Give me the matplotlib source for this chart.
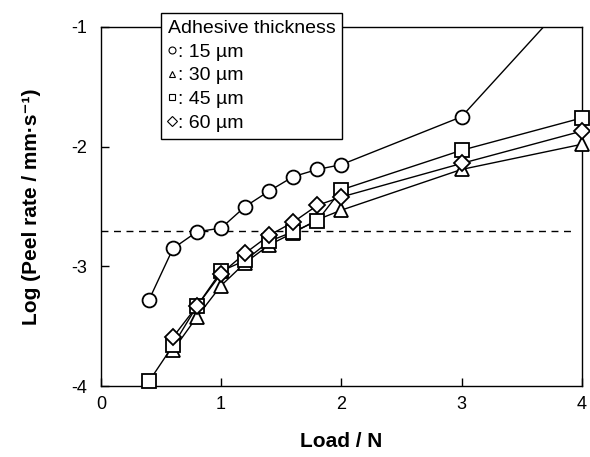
import matplotlib.pyplot as plt
from matplotlib.lines import Line2D

plt.rcParams['font.family'] = ['Liberation Sans', 'DejaVu Sans']
plt.rcParams['axes.unicode_minus'] = False

# Load (N)
load_15 = [0.4, 0.6, 0.8, 1.0, 1.2, 1.4, 1.6, 1.8, 2.0, 3.0, 4.0]
load_30 = [0.6, 0.8, 1.0, 1.2, 1.4, 1.6, 1.8, 2.0, 3.0, 4.0]
load_45 = [0.4, 0.6, 0.8, 1.0, 1.2, 1.4, 1.6, 1.8, 2.0, 3.0, 4.0]
load_60 = [0.6, 0.8, 1.0, 1.2, 1.4, 1.6, 1.8, 2.0, 3.0, 4.0]

# log peel rate
rate_15 = [-3.28, -2.85, -2.71, -2.68, -2.50, -2.37, -2.25, -2.19, -2.15, -1.75, -0.65]
rate_30 = [-3.70, -3.42, -3.16, -2.97, -2.82, -2.72, -2.61, -2.53, -2.19, -1.98]
rate_45 = [-3.96, -3.66, -3.33, -3.04, -2.95, -2.79, -2.71, -2.62, -2.36, -2.03, -1.76]
rate_60 = [-3.59, -3.33, -3.06, -2.89, -2.74, -2.63, -2.49, -2.42, -2.14, -1.87]

threshold = -2.70
labels = [': 15 µm', ': 30 µm', ': 45 µm', ': 60 µm']
markers = ['o', '^', 's', 'D']

fig = plt.figure(figsize=(5.9, 4.57), dpi=100)
ax = fig.add_axes([0.171, 0.155, 0.815, 0.786])

ax.plot([0, 3.92], [threshold, threshold], color='black', lw=1, ls=(0, (5, 4)))

series = [(load_15, rate_15), (load_30, rate_30), (load_45, rate_45), (load_60, rate_60)]
sizes = [10, 10, 10, 8]
for (x, y), m, s in zip(series, markers, sizes):
    ax.plot(x, y, color='black', lw=1, marker='none')

# markers drawn unclipped so the ones on the axes edges show fully
for (x, y), m, s in zip(series, markers, sizes):
    xs = [a for a, b in zip(x, y) if -4.05 <= b <= -1]
    ys = [b for b in y if -4.05 <= b <= -1]
    ax.plot(xs, ys, ls='none', marker=m, markersize=s,
            markerfacecolor='white', markeredgecolor='black', markeredgewidth=1.3,
            clip_on=False, zorder=5)

ax.set_xlim(0, 4)
ax.set_ylim(-4, -1)
ax.set_xticks([0, 1, 2, 3, 4])
ax.set_yticks([-4, -3, -2, -1])
ax.tick_params(direction='in', length=6, labelsize=13, width=1)
ax.tick_params(axis='y', pad=10)
ax.tick_params(axis='x', pad=7)
for sp in ax.spines.values():
    sp.set_linewidth(1)

ax.set_xlabel('Load / N', fontsize=15, fontweight='bold', labelpad=14)
ax.set_ylabel('Log (Peel rate / mm·s⁻¹)', fontsize=15, fontweight='bold', labelpad=22)

handles = [Line2D([], [], ls='none', marker=m, markersize=5, markerfacecolor='white',
                  markeredgecolor='black', markeredgewidth=0.8) for m in markers]
leg = fig.legend(handles, labels, title='Adhesive thickness', loc='upper left',
                 bbox_to_anchor=(161 / 590, 1 - 13 / 457), borderaxespad=0,
                 fontsize=14, title_fontsize=14,
                 handlelength=0.4, handletextpad=0.1, labelspacing=0.32,
                 borderpad=0.35, fancybox=False, framealpha=1, edgecolor='black')
leg._legend_box.align = 'left'
leg.get_frame().set_linewidth(1)
leg.set_zorder(10)

fig.savefig('out.png', dpi=100)
